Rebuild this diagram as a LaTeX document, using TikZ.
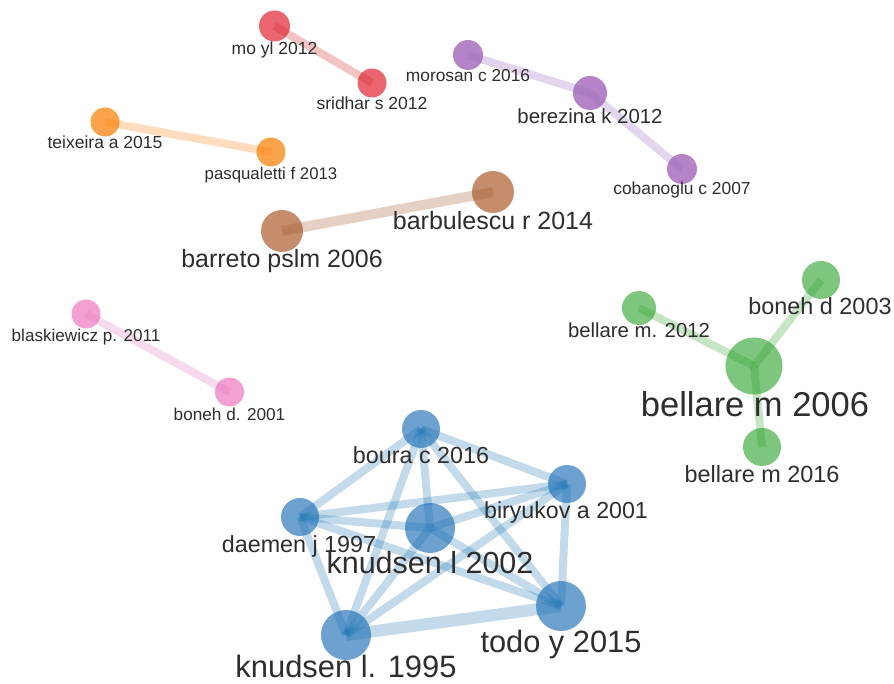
\documentclass[tikz,border=0pt]{standalone}
\usepackage{fontspec}
\setmainfont{Liberation Sans}
% link colours (drawn translucent)
\definecolor{gred}{HTML}{D62728}
\definecolor{gorange}{HTML}{FF7F0E}
\definecolor{gpurple}{HTML}{9467BD}
\definecolor{gbrown}{HTML}{A0522D}
\definecolor{gpink}{HTML}{E377C2}
\definecolor{ggreen}{HTML}{2CA02C}
\definecolor{gblue}{HTML}{1F77B4}
% node fills
\definecolor{nred}{HTML}{EA6570}
\definecolor{norange}{HTML}{FBA34A}
\definecolor{npurple}{HTML}{B584C8}
\definecolor{nbrown}{HTML}{C58D6B}
\definecolor{npink}{HTML}{F4A0D2}
\definecolor{ngreen}{HTML}{7DC67D}
\definecolor{nblue}{HTML}{6CA1D0}
\definecolor{labelgray}{HTML}{2E2E2E}
\tikzset{
  dot/.style 2 args={circle, inner sep=0pt, draw=none, fill=#1, minimum size=#2},
  link/.style={draw=#1, draw opacity=0.27, line width=8pt},
  lab/.style={text=labelgray, inner sep=0pt, anchor=base},
  fs/.style={font=\fontsize{#1}{#1}\selectfont},
}
\begin{document}
\begin{tikzpicture}[x=1pt, y=-1pt]
\useasboundingbox (0,0) rectangle (894,684);
\fill[white] (0,0) rectangle (894,684);

% ---- nodes ----
\node[dot={nred}{31pt}]    (moyl)   at (274.5,26) {};
\node[dot={nred}{29pt}]    (srid)   at (372,83) {};
\node[dot={norange}{29pt}] (teix)   at (105,122) {};
\node[dot={norange}{29pt}] (pasq)   at (271,152) {};
\node[dot={npurple}{30pt}] (moro)   at (468,55) {};
\node[dot={npurple}{34pt}] (bere)   at (590,93) {};
\node[dot={npurple}{30pt}] (coba)   at (682,169) {};
\node[dot={nbrown}{42pt}]  (barr)   at (282,231) {};
\node[dot={nbrown}{42pt}]  (barb)   at (493,192) {};
\node[dot={npink}{29pt}]   (blas)   at (86,314) {};
\node[dot={npink}{29pt}]   (bon01)  at (229.5,392) {};
\node[dot={ngreen}{57pt}]  (bel06)  at (754,366) {};
\node[dot={ngreen}{34pt}]  (bel12)  at (639,308) {};
\node[dot={ngreen}{38pt}]  (bon03)  at (821,280) {};
\node[dot={ngreen}{38pt}]  (bel16)  at (762,447) {};
\node[dot={nblue}{38pt}]   (boura)  at (421,429) {};
\node[dot={nblue}{38pt}]   (biry)   at (567,484) {};
\node[dot={nblue}{38pt}]   (daem)   at (300,517) {};
\node[dot={nblue}{50pt}]   (knu02)  at (430,528) {};
\node[dot={nblue}{50pt}]   (todo)   at (561,606) {};
\node[dot={nblue}{50pt}]   (knu95)  at (346,635) {};

% ---- links ----
\draw[link=gred]    (moyl.center) -- (srid.center);
\draw[link=gorange] (teix.center) -- (pasq.center);
\draw[link=gpurple] (moro.center) -- (bere.center);
\draw[link=gpurple] (bere.center) -- (coba.center);
\draw[link=gbrown, line width=10pt] (barr.center) -- (barb.center);
\draw[link=gpink]   (blas.center) -- (bon01.center);
\draw[link=ggreen]  (bel12.center) -- (bel06.center);
\draw[link=ggreen]  (bon03.center) -- (bel06.center);
\draw[link=ggreen]  (bel16.center) -- (bel06.center);
\foreach \a/\b in {boura/daem, boura/biry, boura/knu02, boura/knu95, boura/todo,
                   daem/biry, daem/knu02, daem/todo, daem/knu95,
                   biry/knu02, biry/knu95, biry/todo,
                   knu02/todo, knu02/knu95}
  \draw[link=gblue] (\a.center) -- (\b.center);
\draw[link=gblue, line width=12pt] (knu95.center) -- (todo.center);

% ---- labels ----
\node[lab, fs=17.5] (t-moyl)  at (274.5,55) {mo yl 2012};
\node[lab, fs=17.5] (t-srid)  at (372,110) {sridhar s 2012};
\node[lab, fs=17.5] (t-teix)  at (105,149) {teixeira a 2015};
\node[lab, fs=16.8] (t-pasq)  at (271,180) {pasqualetti f 2013};
\node[lab, fs=17.3] (t-moro)  at (468,82) {morosan c 2016};
\node[lab, fs=20.4] (t-bere)  at (590,124) {berezina k 2012};
\node[lab, fs=17.4] (t-coba)  at (682,195) {cobanoglu c 2007};
\node[lab, fs=25]   (t-barr)  at (282,268) {barreto pslm 2006};
\node[lab, fs=25]   (t-barb)  at (493,230) {barbulescu r 2014};
\node[lab, fs=17.1] (t-blas)  at (86,342) {blaskiewicz p. 2011};
\node[lab, fs=17.2] (t-bon01) at (229.5,420) {boneh d. 2001};
\node[lab, fs=34.5] (t-bel06) at (755,417) {bellare m 2006};
\node[lab, fs=20.3] (t-bel12) at (639,338) {bellare m. 2012};
\node[lab, fs=23.4] (t-bon03) at (820,315) {boneh d 2003};
\node[lab, fs=23.4] (t-bel16) at (762,482) {bellare m 2016};
\node[lab, fs=23.3] (t-boura) at (421,463) {boura c 2016};
\node[lab, fs=23.2] (t-biry)  at (566,518) {biryukov a 2001};
\node[lab, fs=23.3] (t-daem)  at (299,552) {daemen j 1997};
\node[lab, fs=30.5] (t-knu02) at (430,573) {knudsen l 2002};
\node[lab, fs=30.8] (t-todo)  at (561,652) {todo y 2015};
\node[lab, fs=30.9] (t-knu95) at (346,677) {knudsen l. 1995};
\end{tikzpicture}
\end{document}
